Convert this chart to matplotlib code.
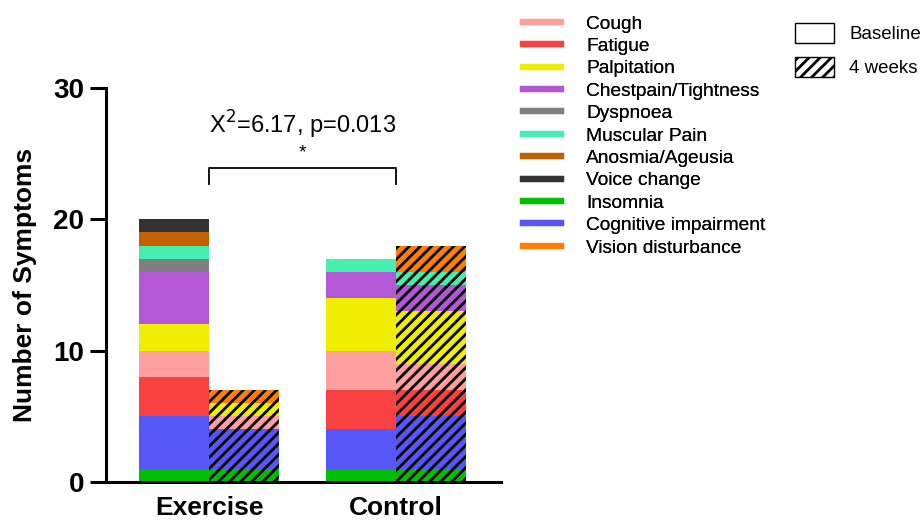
import matplotlib.pyplot as plt
import numpy as np
from matplotlib.lines import Line2D
from matplotlib.patches import Patch

plt.rcParams['font.family'] = ['Liberation Sans', 'DejaVu Sans']
plt.rcParams['hatch.linewidth'] = 2.0

# stacking order from bottom to top
symptoms = ['Insomnia', 'Cognitive impairment', 'Fatigue', 'Cough', 'Palpitation',
            'Chestpain/Tightness', 'Dyspnoea', 'Muscular Pain', 'Anosmia/Ageusia',
            'Voice change', 'Vision disturbance']
colors = ['#00BF00', '#5757F7', '#F94141', '#FF9F9F', '#EEEE00',
          '#B457D6', '#7F7F7F', '#45EFB0', '#C06000', '#333333', '#FF8000']

groups = ['Exercise', 'Control']
exercise_baseline = [1, 4, 3, 2, 2, 4, 1, 1, 1, 1, 0]
exercise_4weeks = [1, 3, 0, 1, 1, 0, 0, 0, 0, 0, 1]
control_baseline = [1, 3, 3, 3, 4, 2, 0, 1, 0, 0, 0]
control_4weeks = [1, 4, 2, 2, 4, 2, 0, 1, 0, 0, 2]

# legend order
legend_order = ['Cough', 'Fatigue', 'Palpitation', 'Chestpain/Tightness', 'Dyspnoea',
                'Muscular Pain', 'Anosmia/Ageusia', 'Voice change', 'Insomnia',
                'Cognitive impairment', 'Vision disturbance']

fig = plt.figure(figsize=(9.21, 5.21), dpi=100)
ax = fig.add_axes([0.1151, 0.0749, 0.4289, 0.7562])

width = 0.374
centers = np.arange(len(groups))
base = np.array([exercise_baseline, control_baseline]).T
wk4 = np.array([exercise_4weeks, control_4weeks]).T

bottom_b = np.zeros(len(groups))
bottom_w = np.zeros(len(groups))
for i, c in enumerate(colors):
    ax.bar(centers - width / 2, base[i], width, bottom=bottom_b, color=c, linewidth=0)
    ax.bar(centers + width / 2, wk4[i], width, bottom=bottom_w, color=c,
           hatch='///', edgecolor='black', linewidth=0)
    bottom_b += base[i]
    bottom_w += wk4[i]

ax.set_xlim(-0.551, 1.561)
ax.set_ylim(0, 30)
ax.set_yticks([0, 10, 20, 30])
ax.set_xticks(centers)
ax.set_xticklabels(groups, fontsize=19, fontweight='bold')
ax.tick_params(axis='y', labelsize=20, width=2.2, length=11.5, pad=4)
for lab in ax.get_yticklabels():
    lab.set_fontweight('bold')
ax.tick_params(axis='x', length=0, pad=10)
ax.set_ylabel('Number of Symptoms', fontsize=19, fontweight='bold', labelpad=12)
for s in ['top', 'right']:
    ax.spines[s].set_visible(False)
for s in ['left', 'bottom']:
    ax.spines[s].set_linewidth(2.2)

# significance bracket
ax.plot([0, 0, 1, 1], [22.7, 23.9, 23.9, 22.7], color='black', lw=1.3, clip_on=False)
ax.text(0.5, 24.4, '*', ha='center', va='bottom', fontsize=14)
ax.text(0.5, 26.0, r'X$^2$=6.17, p=0.013', ha='center', va='bottom', fontsize=17)

handles = [Line2D([0], [0], color=colors[symptoms.index(n)], lw=4.5) for n in legend_order]
leg1 = fig.legend(handles, legend_order, loc='upper left', bbox_to_anchor=(0.549, 1.004),
                  frameon=False, fontsize=13.8, handlelength=2.0, handletextpad=1.3,
                  labelspacing=0.26)
fig.add_artist(leg1)
h2 = [Patch(facecolor='white', edgecolor='black', lw=1),
      Patch(facecolor='white', edgecolor='black', hatch='///', lw=1)]
fig.legend(h2, ['Baseline', '4 weeks'], loc='upper left', bbox_to_anchor=(0.851, 0.978),
           frameon=False, fontsize=13.5, handlelength=2.1, handleheight=1.25,
           handletextpad=0.8, labelspacing=0.75, borderaxespad=0.2)

fig.savefig('out.png', dpi=100)
